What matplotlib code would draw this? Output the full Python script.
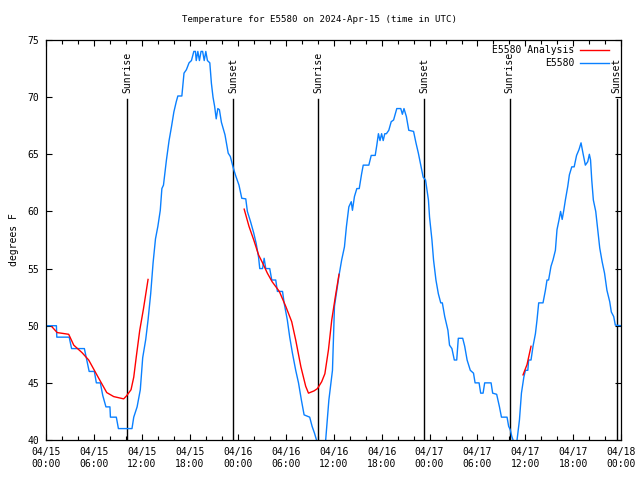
#temperature time series for E5580 with analysis overlay and sun times

import numpy as np
import matplotlib
matplotlib.use('Agg')
import matplotlib.pyplot as plt
from matplotlib.lines import Line2D

# observed temperature (hours since 04/15 00:00 UTC, degrees F)
obs_hours = [0.05, 1.3, 1.35, 2.9, 3.2, 4.8, 5.1, 5.4, 6.05, 6.3, 6.8, 7.1, 7.5, 8.0, 8.06, 8.8, 9.06,
             10.76, 10.98, 11.4, 11.8, 12.1, 12.48, 12.77, 13.1, 13.4, 13.7, 14.0, 14.3, 14.5, 14.7,
             15.07, 15.4, 15.7, 16.0, 16.3, 16.5, 17.0, 17.27, 17.57, 17.9, 18.2, 18.5, 18.7, 18.8,
             19.0, 19.2, 19.4, 19.6, 19.8, 20.0, 20.2, 20.5, 20.7, 20.9, 21.1, 21.3, 21.5, 21.7,
             21.95, 22.4, 22.8, 23.07, 23.4, 23.7, 24.15, 24.5, 25.0, 25.2, 25.6, 26.0, 26.3, 26.6,
             26.75, 27.1, 27.3, 27.5, 28.0, 28.25, 28.75, 28.96, 29.6, 29.8, 30.2, 30.5, 30.84,
             31.25, 31.6, 31.96, 32.3, 33.0, 33.3, 33.6, 33.85, 34.3, 34.6, 35.0, 35.4, 35.85,
             36.1, 36.4, 36.67, 37.0, 37.35, 37.6, 37.9, 38.2, 38.35, 38.6, 38.9, 39.2, 39.5, 39.7,
             40.4, 40.7, 41.2, 41.4, 41.6, 41.8, 42.0, 42.2, 42.4, 42.6, 42.9, 43.2, 43.5, 43.9,
             44.4, 44.6, 44.8, 45.1, 45.4, 46.0, 46.3, 46.6, 46.9, 47.2, 47.5, 47.86, 48.0, 48.3,
             48.5, 48.8, 49.1, 49.4, 49.6, 49.9, 50.3, 50.5, 50.8, 51.1, 51.4, 51.6, 52.15, 52.4,
             52.7, 53.1, 53.5, 53.7, 54.2, 54.4, 54.7, 54.9, 55.7, 55.9, 56.4, 56.75, 57.0, 57.7,
             57.9, 58.1, 58.3, 58.45, 58.7, 58.95, 59.25, 59.5, 59.8, 60.0, 60.3, 60.4, 60.7,
             60.95, 61.25, 61.45, 61.66, 62.2, 62.5, 62.7, 62.9, 63.2, 63.45, 63.75, 63.95, 64.2,
             64.4, 64.6, 64.8, 65.0, 65.3, 65.5, 65.8, 66.1, 66.4, 66.7, 66.96, 67.2, 67.5, 67.8,
             68.0, 68.15, 68.3, 68.5, 68.8, 69.05, 69.3, 69.6, 69.9, 70.2, 70.55, 70.75, 71.05,
             71.25, 72.0]
obs_temp = [50.0, 50.0, 49.0, 49.0, 48.0, 48.0, 47.0, 46.0, 46.0, 45.0, 45.0, 43.9, 42.9, 42.9, 42.0, 42.0, 41.0,
            41.0, 42.0, 42.9, 44.4, 47.2, 48.8, 50.5, 52.8, 55.5, 57.6, 58.7, 60.1, 62.0, 62.3,
            64.5, 66.2, 67.4, 68.7, 69.6, 70.1, 70.1, 72.1, 72.4, 73.0, 73.2, 74.0, 74.0, 73.2,
            74.0, 73.2, 74.0, 74.0, 73.2, 74.0, 73.2, 73.0, 71.2, 70.0, 69.2, 68.1, 69.0, 68.9,
            67.8, 66.7, 65.1, 64.8, 63.9, 63.2, 62.3, 61.15, 61.1, 60.0, 59.1, 58.1, 57.2, 56.0,
            55.0, 55.0, 55.9, 55.0, 55.0, 54.0, 54.0, 53.0, 53.0, 52.0, 50.5, 49.0, 47.6,
            46.1, 45.0, 43.5, 42.2, 42.0, 41.2, 40.6, 40.0, 39.3, 39.2, 40.0, 43.5, 46.1,
            51.7, 53.1, 54.4, 55.75, 56.9, 58.7, 60.4, 60.85, 60.1, 61.3, 62.0, 62.0, 63.3, 64.05,
            64.05, 64.9, 64.9, 65.8, 66.8, 66.2, 66.8, 66.2, 66.8, 66.8, 67.1, 67.85, 68.0, 69.0,
            69.0, 68.5, 69.0, 68.3, 67.1, 67.0, 66.0, 65.1, 64.05, 63.0, 62.75, 61.0, 59.5, 57.5,
            55.75, 54.0, 52.8, 52.0, 52.0, 50.8, 49.6, 48.3, 48.0, 47.0, 47.0, 48.9, 48.9, 48.2,
            47.0, 46.1, 45.85, 45.0, 45.0, 44.1, 44.1, 45.0, 45.0, 44.1, 44.0, 42.9, 42.0, 42.0,
            41.2, 40.9, 40.3, 40.0, 39.6, 40.0, 41.75, 44.1, 45.5, 46.1, 46.1, 47.0, 47.0,
            48.2, 49.3, 50.5, 52.0, 52.0, 53.1, 54.0, 54.0, 55.2, 55.75, 56.6, 58.4, 59.25,
            60.0, 59.3, 60.1, 61.0, 62.2, 63.2, 63.9, 63.9, 64.9, 65.4, 66.0, 65.1, 64.05, 64.35,
            65.0, 64.5, 62.75, 61.0, 60.0, 58.4, 56.8, 55.6, 54.6, 53.1, 52.1, 51.2, 50.8,
            50.05, 50.0]

# analysis runs (three separate pieces)
ana1_hours = [0.75, 1.4, 2.84, 3.47, 4.5, 5.34, 6.6, 7.6, 8.47, 9.72, 10.06, 10.64, 10.98, 11.3, 11.73, 12.2, 12.77]
ana1_temp = [49.9, 49.4, 49.25, 48.3, 47.65, 47.0, 45.4, 44.15, 43.8, 43.6, 43.85, 44.4, 45.5, 47.3, 49.6, 51.5, 54.05]
ana2_hours = [24.8, 25.4, 26.0, 26.6, 27.1, 27.7, 28.3, 29.2, 30.0, 30.75, 31.25, 31.9, 32.5, 32.85, 33.55,
              33.97, 34.5, 34.9, 35.35, 35.76, 36.2, 36.67]
ana2_temp = [60.2, 58.7, 57.5, 56.2, 55.5, 54.6, 53.85, 53.0, 51.7, 50.35, 48.75, 46.4, 44.7, 44.1, 44.3,
             44.5, 45.1, 45.8, 47.9, 50.5, 52.5, 54.5]
ana3_hours = [59.7, 60.2, 60.7]
ana3_temp = [45.7, 46.6, 48.2]

sunrise_hours = [10.14, 34.04, 58.03]
sunset_hours = [23.4, 47.3, 71.4]

tick_hours = list(range(0, 73, 6))
tick_labels = ['04/15\n00:00', '04/15\n06:00', '04/15\n12:00', '04/15\n18:00',
               '04/16\n00:00', '04/16\n06:00', '04/16\n12:00', '04/16\n18:00',
               '04/17\n00:00', '04/17\n06:00', '04/17\n12:00', '04/17\n18:00', '04/18\n00:00']

plt.rcParams['font.family'] = ['DejaVu Sans Mono']
plt.rcParams['font.size'] = 7

blue = '#0a80ff'
red = '#ff0000'

fig = plt.figure(figsize=(6.4, 4.8), dpi=100)
ax = fig.add_axes([0.0719, 0.0833, 0.8989, 0.8334])

# sunrise / sunset markers
for h in sunrise_hours:
    ax.plot([h, h], [40, 69.85], color='black', linewidth=1)
    ax.text(h, 70.4, 'Sunrise', rotation=90, ha='center', va='bottom', fontsize=7)
for h in sunset_hours:
    ax.plot([h, h], [40, 69.85], color='black', linewidth=1)
    ax.text(h, 70.4, 'Sunset', rotation=90, ha='center', va='bottom', fontsize=7)

# data
ax.plot(obs_hours, obs_temp, color=blue, linewidth=1)
for hh, tt in [(ana1_hours, ana1_temp), (ana2_hours, ana2_temp), (ana3_hours, ana3_temp)]:
    ax.plot(hh, tt, color=red, linewidth=1)

ax.set_xlim(0, 72)
ax.set_ylim(40, 75)
ax.set_xticks(tick_hours)
ax.set_xticklabels(tick_labels)
ax.set_xticks(np.arange(0, 73, 2), minor=True)
ax.set_yticks(np.arange(40, 76, 5))
ax.tick_params(which='both', direction='in', top=True, right=True, pad=5)
ax.tick_params(which='major', length=4.5, width=0.8)
ax.tick_params(which='minor', length=3, width=0.8)
for s in ax.spines.values():
    s.set_linewidth(0.9)

ax.set_ylabel('degrees F', labelpad=6)
fig.text(0.5, 0.96, 'Temperature for E5580 on 2024-Apr-15 (time in UTC)', ha='center', va='center', fontsize=6.6)

# legend drawn by hand (text right-aligned, sample on the right)
for row, (label, col) in enumerate([('E5580 Analysis', red), ('E5580', blue)]):
    y = 0.975 - row * 0.032
    ax.text(0.918, y, label, transform=ax.transAxes, ha='right', va='center', fontsize=7)
    ax.add_line(Line2D([0.929, 0.979], [y, y], transform=ax.transAxes, color=col, linewidth=1))

plt.savefig('out.png', dpi=100)
